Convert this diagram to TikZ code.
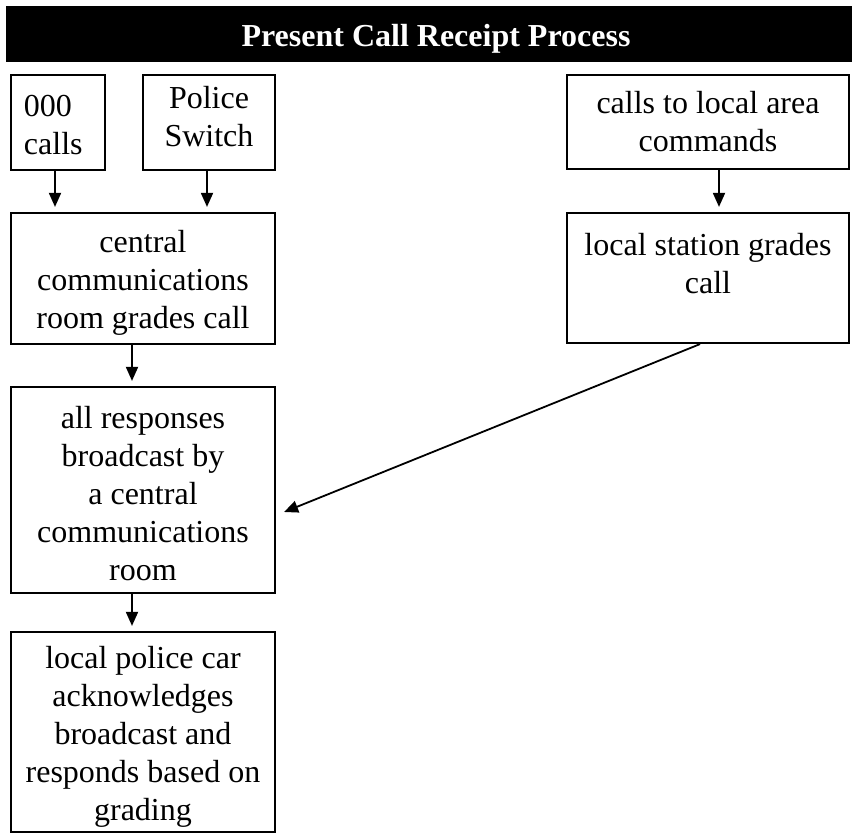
\documentclass[tikz,border=0pt]{standalone}
\usepackage{fontspec}
\setmainfont{Liberation Serif}
\usetikzlibrary{arrows.meta}

\begin{document}
\begin{tikzpicture}[
    x=0.5pt,y=-0.5pt,>=Triangle,
    every node/.style={font=\fontsize{16}{19}\selectfont,align=flush center},
    titlebar/.style={fill=black,text=white,font=\fontsize{16}{19}\selectfont\bfseries,inner sep=0pt,text width=430pt,minimum height=28pt,execute at begin node={\rule{0pt}{16pt}}},
    box/.style={draw=black,line width=1.1pt,inner sep=2pt},
    lowered/.style={execute at begin node={\rule{0pt}{#1}}},
    lowered/.default=15pt,
    raised/.style={execute at end node={\rule[-#1]{0pt}{0pt}}},
    flow/.style={-{Triangle[length=7pt,width=6pt]},draw=black,line width=0.9pt,shorten >=2.5pt}
]
\useasboundingbox (0,0) rectangle (852,836);
\node[titlebar] (title) at (436,34) {Present Call Receipt Process};

\node[box,lowered=13pt,minimum height=47.5pt,inner xsep=6.5pt,text width=34pt,align=flush left] (ooo) at (58,122.5) {000\\calls};
\node[box,raised=6pt,minimum height=47.5pt,text width=62pt] (switch) at (209,122.5) {Police\\Switch};
\node[box,minimum height=47pt,text width=137pt] (localcalls) at (708,122) {calls to local area\\commands};

\node[box,lowered,minimum height=65.5pt,text width=128pt] (central) at (143,278.5) {central\\communications\\room grades call};
\node[box,lowered,minimum height=65pt,text width=137pt] (station) at (708,278) {local station grades\\call\\\mbox{}};

\node[box,lowered,minimum height=103pt,text width=128pt] (broadcast) at (143,490) {all responses\\broadcast by\\a central\\communications\\room};
\node[box,lowered=16pt,minimum height=100pt,text width=128pt] (car) at (143,732) {local police car\\acknowledges\\broadcast and\\responds based on\\grading};

\draw[flow] ([xshift=-1.5pt]ooo.south) -- ([xshift=-1.5pt]ooo.south |- central.north);
\draw[flow] ([xshift=-1pt]switch.south) -- ([xshift=-1pt]switch.south |- central.north);
\draw[flow] ([xshift=5.5pt]localcalls.south) -- ([xshift=5.5pt]localcalls.south |- station.north);
\draw[flow] ([xshift=-5.5pt]central.south) -- ([xshift=-5.5pt]central.south |- broadcast.north);
\draw[flow] ([xshift=-5.5pt]broadcast.south) -- ([xshift=-5.5pt]broadcast.south |- car.north);
\draw[flow,shorten >=0pt] ([xshift=-4pt]station.south) -- ([shift={(4pt,-11pt)}]broadcast.east);
\end{tikzpicture}
\end{document}
